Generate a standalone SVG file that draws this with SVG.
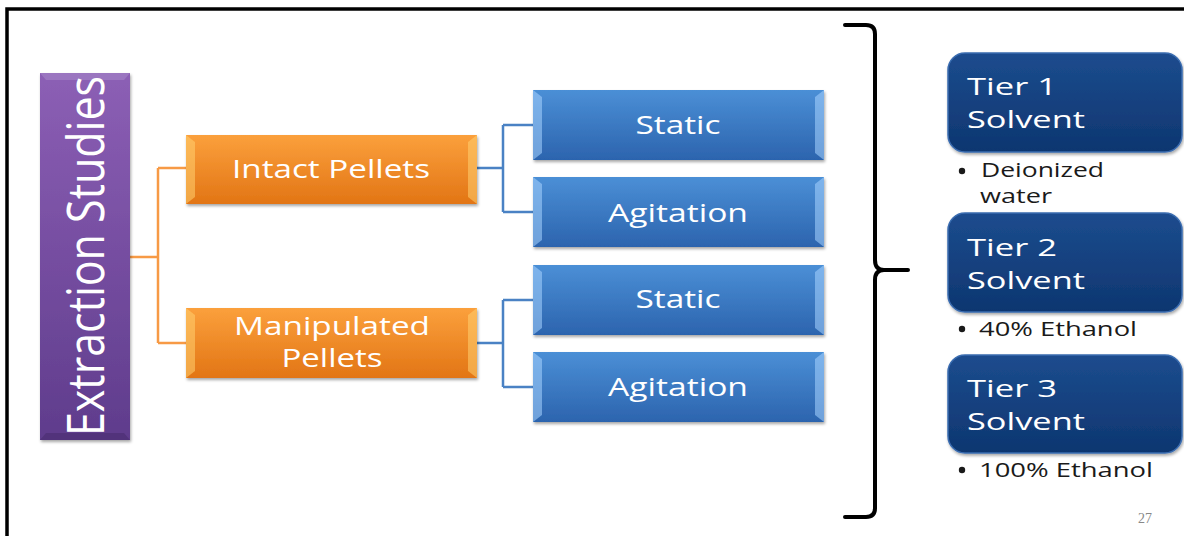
<svg xmlns="http://www.w3.org/2000/svg" width="1184" height="536" viewBox="0 0 1184 536">
  <defs>
    <linearGradient id="gPurple" x1="0" y1="0" x2="0" y2="1">
      <stop offset="0" stop-color="#8c5fb5"/>
      <stop offset="1" stop-color="#5f3c8c"/>
    </linearGradient>
    <linearGradient id="gOrange" x1="0" y1="0" x2="0" y2="1">
      <stop offset="0" stop-color="#fba03c"/>
      <stop offset="1" stop-color="#e27515"/>
    </linearGradient>
    <linearGradient id="gBlue" x1="0" y1="0" x2="0" y2="1">
      <stop offset="0" stop-color="#4b8fd6"/>
      <stop offset="1" stop-color="#2c64ae"/>
    </linearGradient>
    <linearGradient id="gDark" x1="0" y1="0" x2="0" y2="1">
      <stop offset="0" stop-color="#1c4c8e"/>
      <stop offset="1" stop-color="#0e3670"/>
    </linearGradient>
    <filter id="sh" x="-10%" y="-10%" width="120%" height="130%">
      <feDropShadow dx="1" dy="2" stdDeviation="1.5" flood-color="#000" flood-opacity="0.35"/>
    </filter>
  </defs>
  <style>
    .lbl { font-family: "Open Sans", "Liberation Sans", sans-serif; fill: #ffffff; text-anchor: middle; }
    .tier { font-family: "Open Sans", "Liberation Sans", sans-serif; fill: #ffffff; font-size: 24px; }
    .bul { font-family: "Open Sans", "Liberation Sans", sans-serif; fill: #1a1a1a; font-size: 20px; }
    .oc { stroke: #f79a45; stroke-width: 2.5; fill: none; }
    .bc { stroke: #4a82c4; stroke-width: 2.5; fill: none; }
    .hlO { fill: #ffd070; opacity: 0.55; }
    .hlB { fill: #a8d4ff; opacity: 0.55; }
  </style>
  <rect width="1184" height="536" fill="#ffffff"/>
  <rect x="7" y="9" width="1200" height="600" fill="none" stroke="#000" stroke-width="3.5"/>

  <g id="connectors">
    <path class="oc" d="M130 257 H158 M158 168 V343 M158 168 H186 M158 343 H186"/>
    <path class="bc" d="M477 168 H503 M503 125 V212 M503 125 H533 M503 212 H533"/>
    <path class="bc" d="M477 343 H503 M503 300 V387 M503 300 H533 M503 387 H533"/>
  </g>

  <g id="extraction-studies">
    <rect x="40" y="73" width="90" height="367" fill="url(#gPurple)" filter="url(#sh)"/>
    <polygon points="40,73 130,73 124,80 46,80" fill="#a585c8" opacity="0.6"/>
    <polygon points="40,440 130,440 124,433 46,433" fill="#4a2d70" opacity="0.6"/>
    <text class="lbl" transform="translate(104 256) rotate(-90)" font-size="52" textLength="360" lengthAdjust="spacingAndGlyphs">Extraction Studies</text>
  </g>

  <g id="intact-pellets">
    <rect x="186" y="135" width="291" height="69" fill="url(#gOrange)" filter="url(#sh)"/>
    <polygon class="hlO" points="186,135 195,142 195,197 186,204"/>
    <polygon class="hlO" points="477,135 468,142 468,197 477,204"/>
    <text class="lbl" x="331" y="178" font-size="25" textLength="198" lengthAdjust="spacingAndGlyphs">Intact Pellets</text>
  </g>

  <g id="manipulated-pellets">
    <rect x="186" y="308" width="291" height="70" fill="url(#gOrange)" filter="url(#sh)"/>
    <polygon class="hlO" points="186,308 195,315 195,371 186,378"/>
    <polygon class="hlO" points="477,308 468,315 468,371 477,378"/>
    <text class="lbl" x="332" y="335" font-size="25" textLength="196" lengthAdjust="spacingAndGlyphs">Manipulated</text>
    <text class="lbl" x="332" y="367" font-size="25" textLength="101" lengthAdjust="spacingAndGlyphs">Pellets</text>
  </g>

  <g id="static-1">
    <rect x="533" y="90" width="291" height="70" fill="url(#gBlue)" filter="url(#sh)"/>
    <polygon class="hlB" points="533,90 542,97 542,153 533,160"/>
    <polygon class="hlB" points="824,90 815,97 815,153 824,160"/>
    <text class="lbl" x="678" y="134" font-size="26" textLength="85" lengthAdjust="spacingAndGlyphs">Static</text>
  </g>
  <g id="agitation-1">
    <rect x="533" y="177" width="291" height="70" fill="url(#gBlue)" filter="url(#sh)"/>
    <polygon class="hlB" points="533,177 542,184 542,240 533,247"/>
    <polygon class="hlB" points="824,177 815,184 815,240 824,247"/>
    <text class="lbl" x="678" y="222" font-size="26" textLength="140" lengthAdjust="spacingAndGlyphs">Agitation</text>
  </g>
  <g id="static-2">
    <rect x="533" y="265" width="291" height="70" fill="url(#gBlue)" filter="url(#sh)"/>
    <polygon class="hlB" points="533,265 542,272 542,328 533,335"/>
    <polygon class="hlB" points="824,265 815,272 815,328 824,335"/>
    <text class="lbl" x="678" y="308" font-size="26" textLength="85" lengthAdjust="spacingAndGlyphs">Static</text>
  </g>
  <g id="agitation-2">
    <rect x="533" y="352" width="291" height="70" fill="url(#gBlue)" filter="url(#sh)"/>
    <polygon class="hlB" points="533,352 542,359 542,415 533,422"/>
    <polygon class="hlB" points="824,352 815,359 815,415 824,422"/>
    <text class="lbl" x="678" y="396" font-size="26" textLength="140" lengthAdjust="spacingAndGlyphs">Agitation</text>
  </g>

  <g id="brace">
    <path d="M845 25 H866 Q875 25 875 34 V260 Q875 270 884 270 H908 M884 270 Q875 270 875 280 V508 Q875 517 866 517 H845" fill="none" stroke="#000" stroke-width="4" stroke-linecap="round"/>
  </g>

  <g id="tier-1">
    <rect x="948" y="53" width="234" height="99" rx="17" fill="url(#gDark)" stroke="#3a6cb0" stroke-width="1.5" filter="url(#sh)"/>
    <text class="tier" x="967" y="95" textLength="90" lengthAdjust="spacingAndGlyphs">Tier 1</text>
    <text class="tier" x="967" y="128" textLength="118" lengthAdjust="spacingAndGlyphs">Solvent</text>
  </g>
  <g id="tier-1-note">
    <circle cx="962" cy="171" r="3.2" fill="#1a1a1a"/>
    <text class="bul" x="981" y="177" textLength="123" lengthAdjust="spacingAndGlyphs">Deionized</text>
    <text class="bul" x="980" y="203" textLength="72" lengthAdjust="spacingAndGlyphs">water</text>
  </g>

  <g id="tier-2">
    <rect x="948" y="213" width="234" height="99" rx="17" fill="url(#gDark)" stroke="#3a6cb0" stroke-width="1.5" filter="url(#sh)"/>
    <text class="tier" x="967" y="256" textLength="90" lengthAdjust="spacingAndGlyphs">Tier 2</text>
    <text class="tier" x="967" y="289" textLength="118" lengthAdjust="spacingAndGlyphs">Solvent</text>
  </g>
  <g id="tier-2-note">
    <circle cx="962" cy="329" r="3.2" fill="#1a1a1a"/>
    <text class="bul" x="979" y="336" textLength="158" lengthAdjust="spacingAndGlyphs">40% Ethanol</text>
  </g>

  <g id="tier-3">
    <rect x="948" y="355" width="234" height="98" rx="17" fill="url(#gDark)" stroke="#3a6cb0" stroke-width="1.5" filter="url(#sh)"/>
    <text class="tier" x="967" y="397" textLength="90" lengthAdjust="spacingAndGlyphs">Tier 3</text>
    <text class="tier" x="967" y="430" textLength="118" lengthAdjust="spacingAndGlyphs">Solvent</text>
  </g>
  <g id="tier-3-note">
    <circle cx="962" cy="470" r="3.2" fill="#1a1a1a"/>
    <text class="bul" x="979" y="477" textLength="174" lengthAdjust="spacingAndGlyphs">100% Ethanol</text>
  </g>

  <text x="1145" y="523" font-family="Liberation Serif, serif" font-size="14" fill="#888" text-anchor="middle">27</text>
</svg>
